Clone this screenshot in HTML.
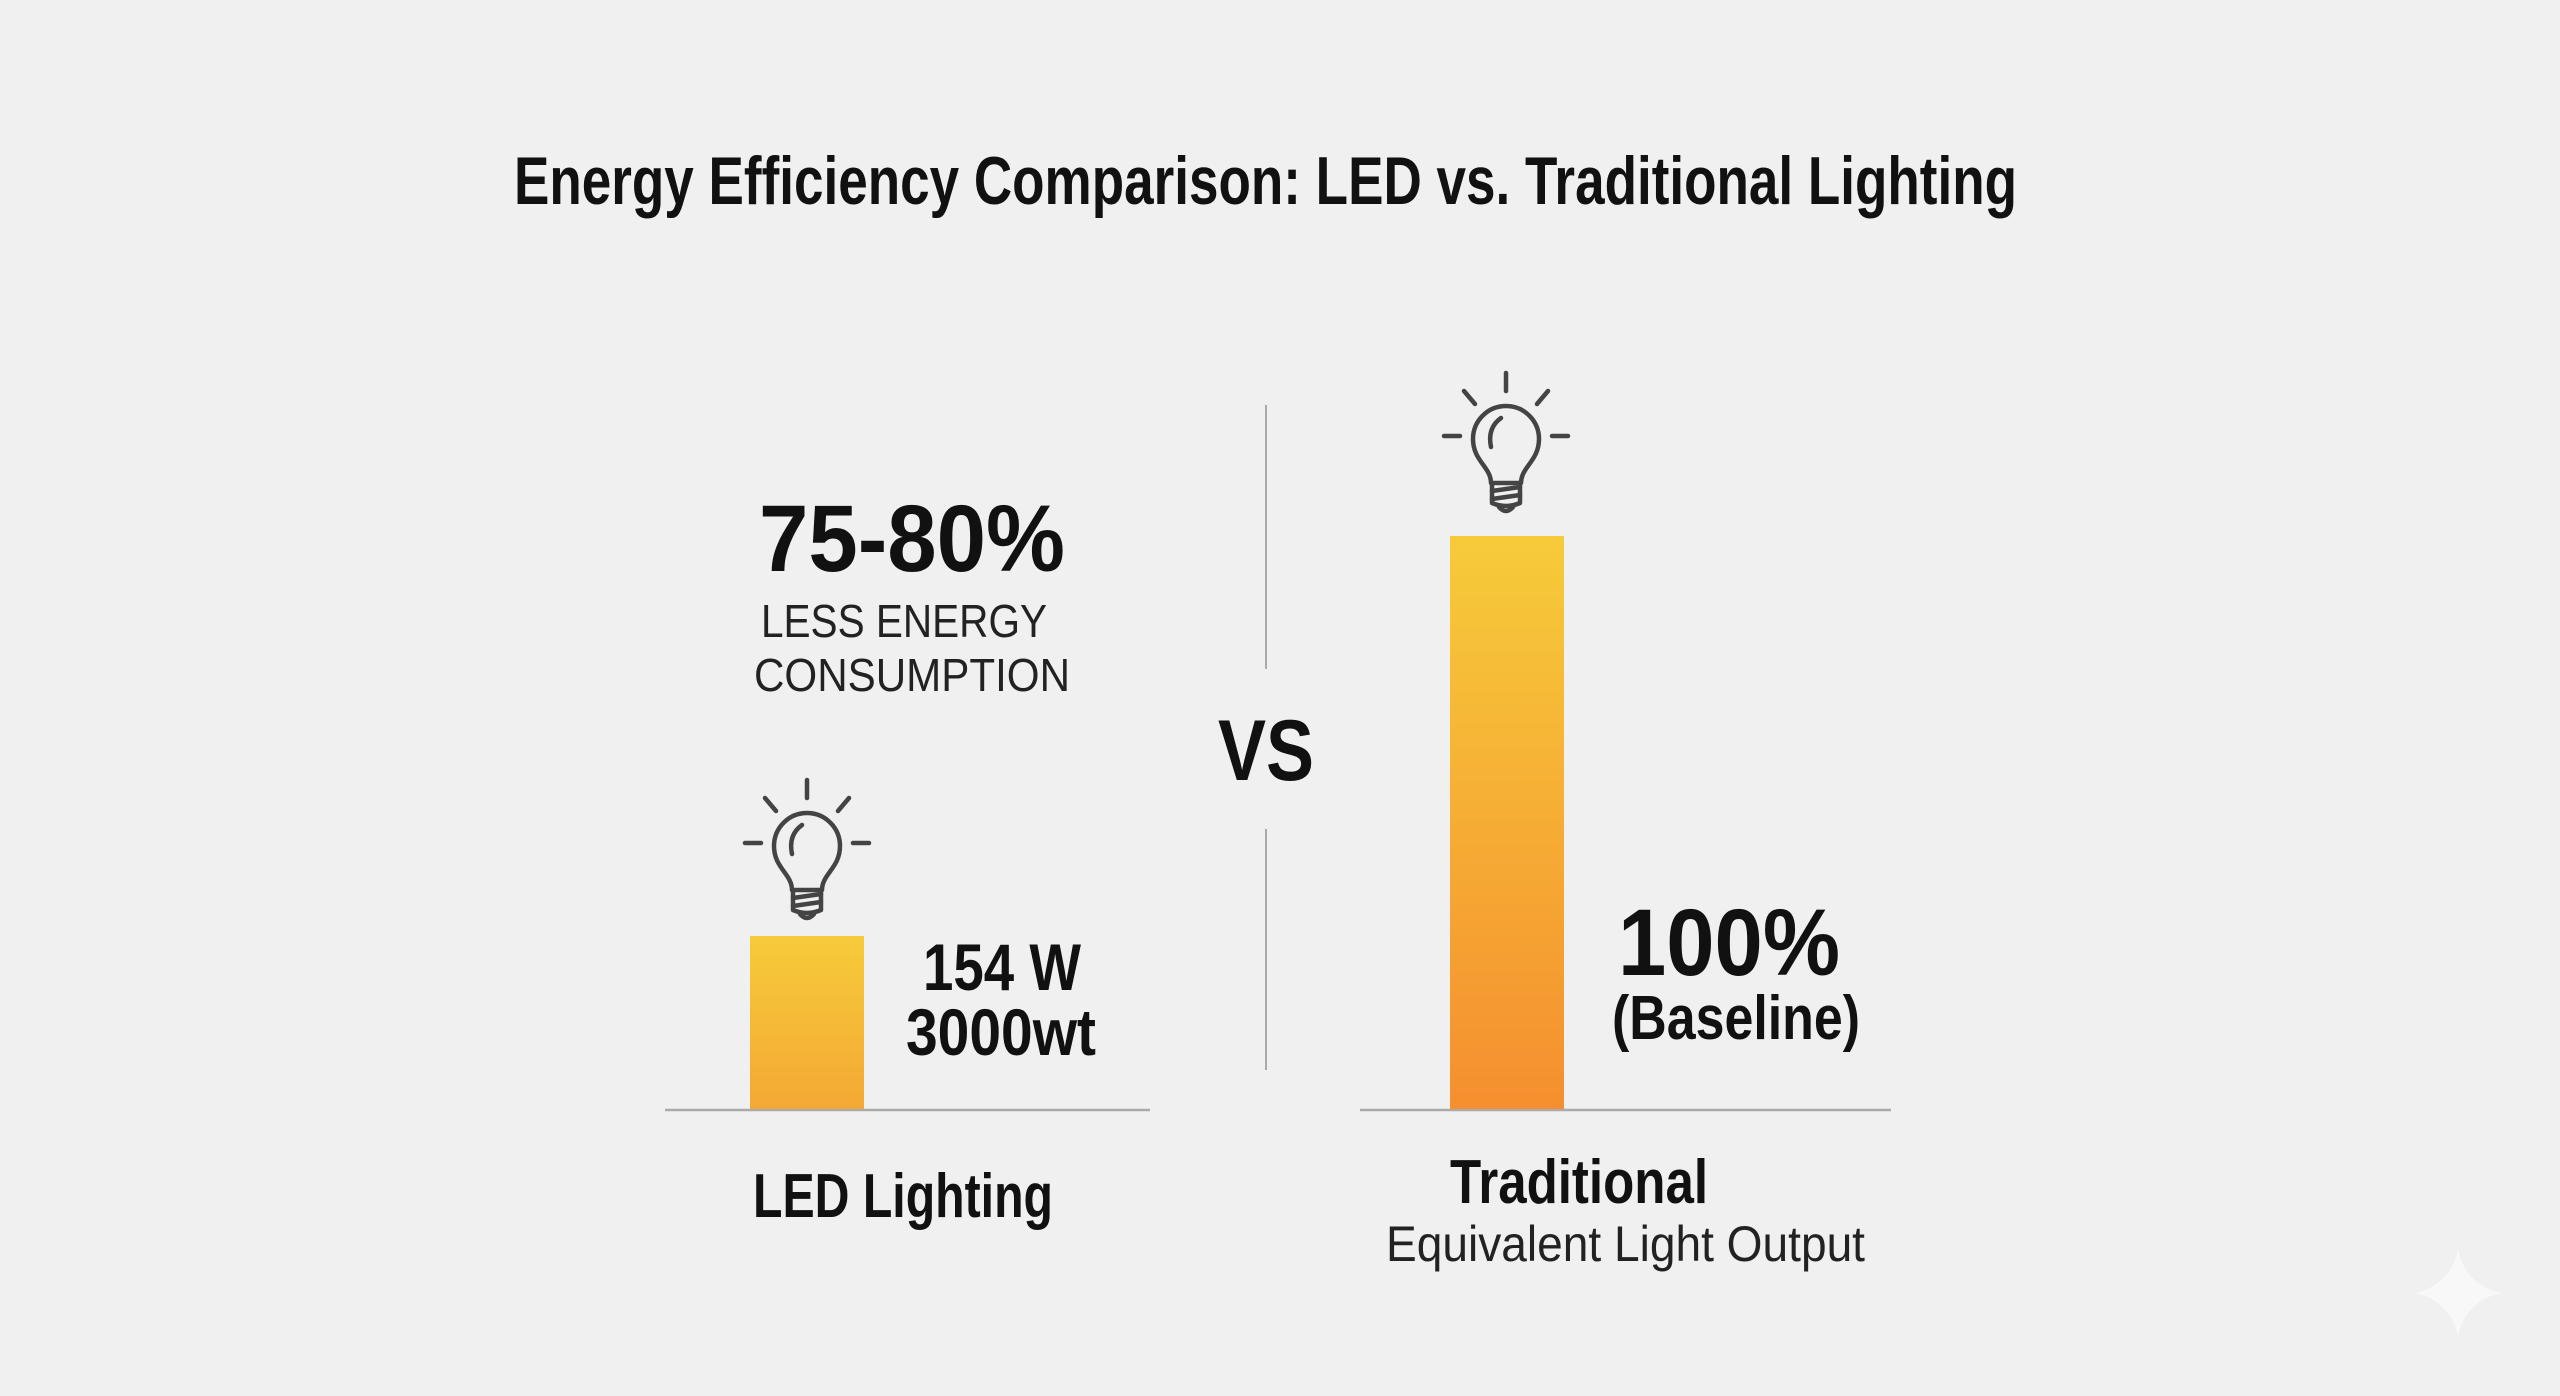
<!DOCTYPE html>
<html><head><meta charset="utf-8"><style>
html,body{margin:0;padding:0;background:#f0f0f0;}
svg{display:block;}
text{font-family:"Liberation Sans",sans-serif;fill:#111;}
</style></head><body>
<svg width="2560" height="1396" viewBox="0 0 2560 1396" xmlns="http://www.w3.org/2000/svg">
<defs>
<linearGradient id="gl" x1="0" y1="0" x2="0" y2="1"><stop offset="0" stop-color="#f6cb3a"/><stop offset="1" stop-color="#f4a834"/></linearGradient>
<linearGradient id="gr" x1="0" y1="0" x2="0" y2="1"><stop offset="0" stop-color="#f6cb3a"/><stop offset="1" stop-color="#f58f2f"/></linearGradient>
<g id="bulb" fill="none" stroke="#444" stroke-width="4.5" stroke-linecap="round" stroke-linejoin="round">
<line x1="0" y1="0" x2="0" y2="18"/>
<line x1="-42" y1="18" x2="-31" y2="31"/><line x1="42" y1="18" x2="31" y2="31"/>
<line x1="-62" y1="63" x2="-46" y2="63"/><line x1="62" y1="63" x2="46" y2="63"/>
<path d="M -15 110 C -15 94 -33 88 -33 66 A 33 33 0 1 1 33 66 C 33 88 15 94 15 110 Z"/>
<path d="M -15 74 Q -19 55 -5 45"/>
<path d="M -14 110 L -14 130 Q 0 136 14 130 L 14 110"/>
<line x1="-14" y1="118" x2="14" y2="114"/><line x1="-14" y1="126" x2="14" y2="122"/>
<path d="M -7 134 Q 0 142 7 134"/>
</g>
</defs>
<text x="514" y="204" font-size="68" font-weight="bold" textLength="1503" lengthAdjust="spacingAndGlyphs">Energy Efficiency Comparison: LED vs. Traditional Lighting</text>

<line x1="1266" y1="405" x2="1266" y2="669" stroke="#aaa" stroke-width="2"/>
<line x1="1266" y1="829" x2="1266" y2="1070" stroke="#aaa" stroke-width="2"/>
<text x="1218" y="780" font-size="86" font-weight="bold" textLength="96" lengthAdjust="spacingAndGlyphs">VS</text>

<line x1="665" y1="1110" x2="1150" y2="1110" stroke="#aaa" stroke-width="2.5"/>
<line x1="1360" y1="1110" x2="1891" y2="1110" stroke="#aaa" stroke-width="2.5"/>
<rect x="750" y="936" width="114" height="173" fill="url(#gl)"/>
<rect x="1450" y="536" width="114" height="573" fill="url(#gr)"/>

<use href="#bulb" x="807" y="780"/>
<use href="#bulb" x="1506" y="373"/>

<text x="759" y="571" font-size="95" font-weight="bold" textLength="306" lengthAdjust="spacingAndGlyphs">75-80%</text>
<text x="761" y="637" font-size="46" textLength="286" lengthAdjust="spacingAndGlyphs" style="fill:#222">LESS ENERGY</text>
<text x="754" y="691" font-size="46" textLength="316" lengthAdjust="spacingAndGlyphs" style="fill:#222">CONSUMPTION</text>

<text x="923" y="990" font-size="66" font-weight="bold" textLength="158" lengthAdjust="spacingAndGlyphs">154 W</text>
<text x="906" y="1055" font-size="66" font-weight="bold" textLength="190" lengthAdjust="spacingAndGlyphs">3000wt</text>

<text x="1618" y="975" font-size="95" font-weight="bold" textLength="222" lengthAdjust="spacingAndGlyphs">100%</text>
<text x="1612" y="1039" font-size="62" font-weight="bold" textLength="248" lengthAdjust="spacingAndGlyphs">(Baseline)</text>

<text x="753" y="1217" font-size="62" font-weight="bold" textLength="300" lengthAdjust="spacingAndGlyphs">LED Lighting</text>
<text x="1450" y="1203" font-size="62" font-weight="bold" textLength="258" lengthAdjust="spacingAndGlyphs">Traditional</text>
<text x="1386" y="1261" font-size="50" textLength="479" lengthAdjust="spacingAndGlyphs" style="fill:#222">Equivalent Light Output</text>

<path d="M 2458 1250 Q 2466 1285 2501 1293 Q 2466 1301 2458 1336 Q 2450 1301 2415 1293 Q 2450 1285 2458 1250 Z" fill="#f8f8f8"/>
</svg>
</body></html>
